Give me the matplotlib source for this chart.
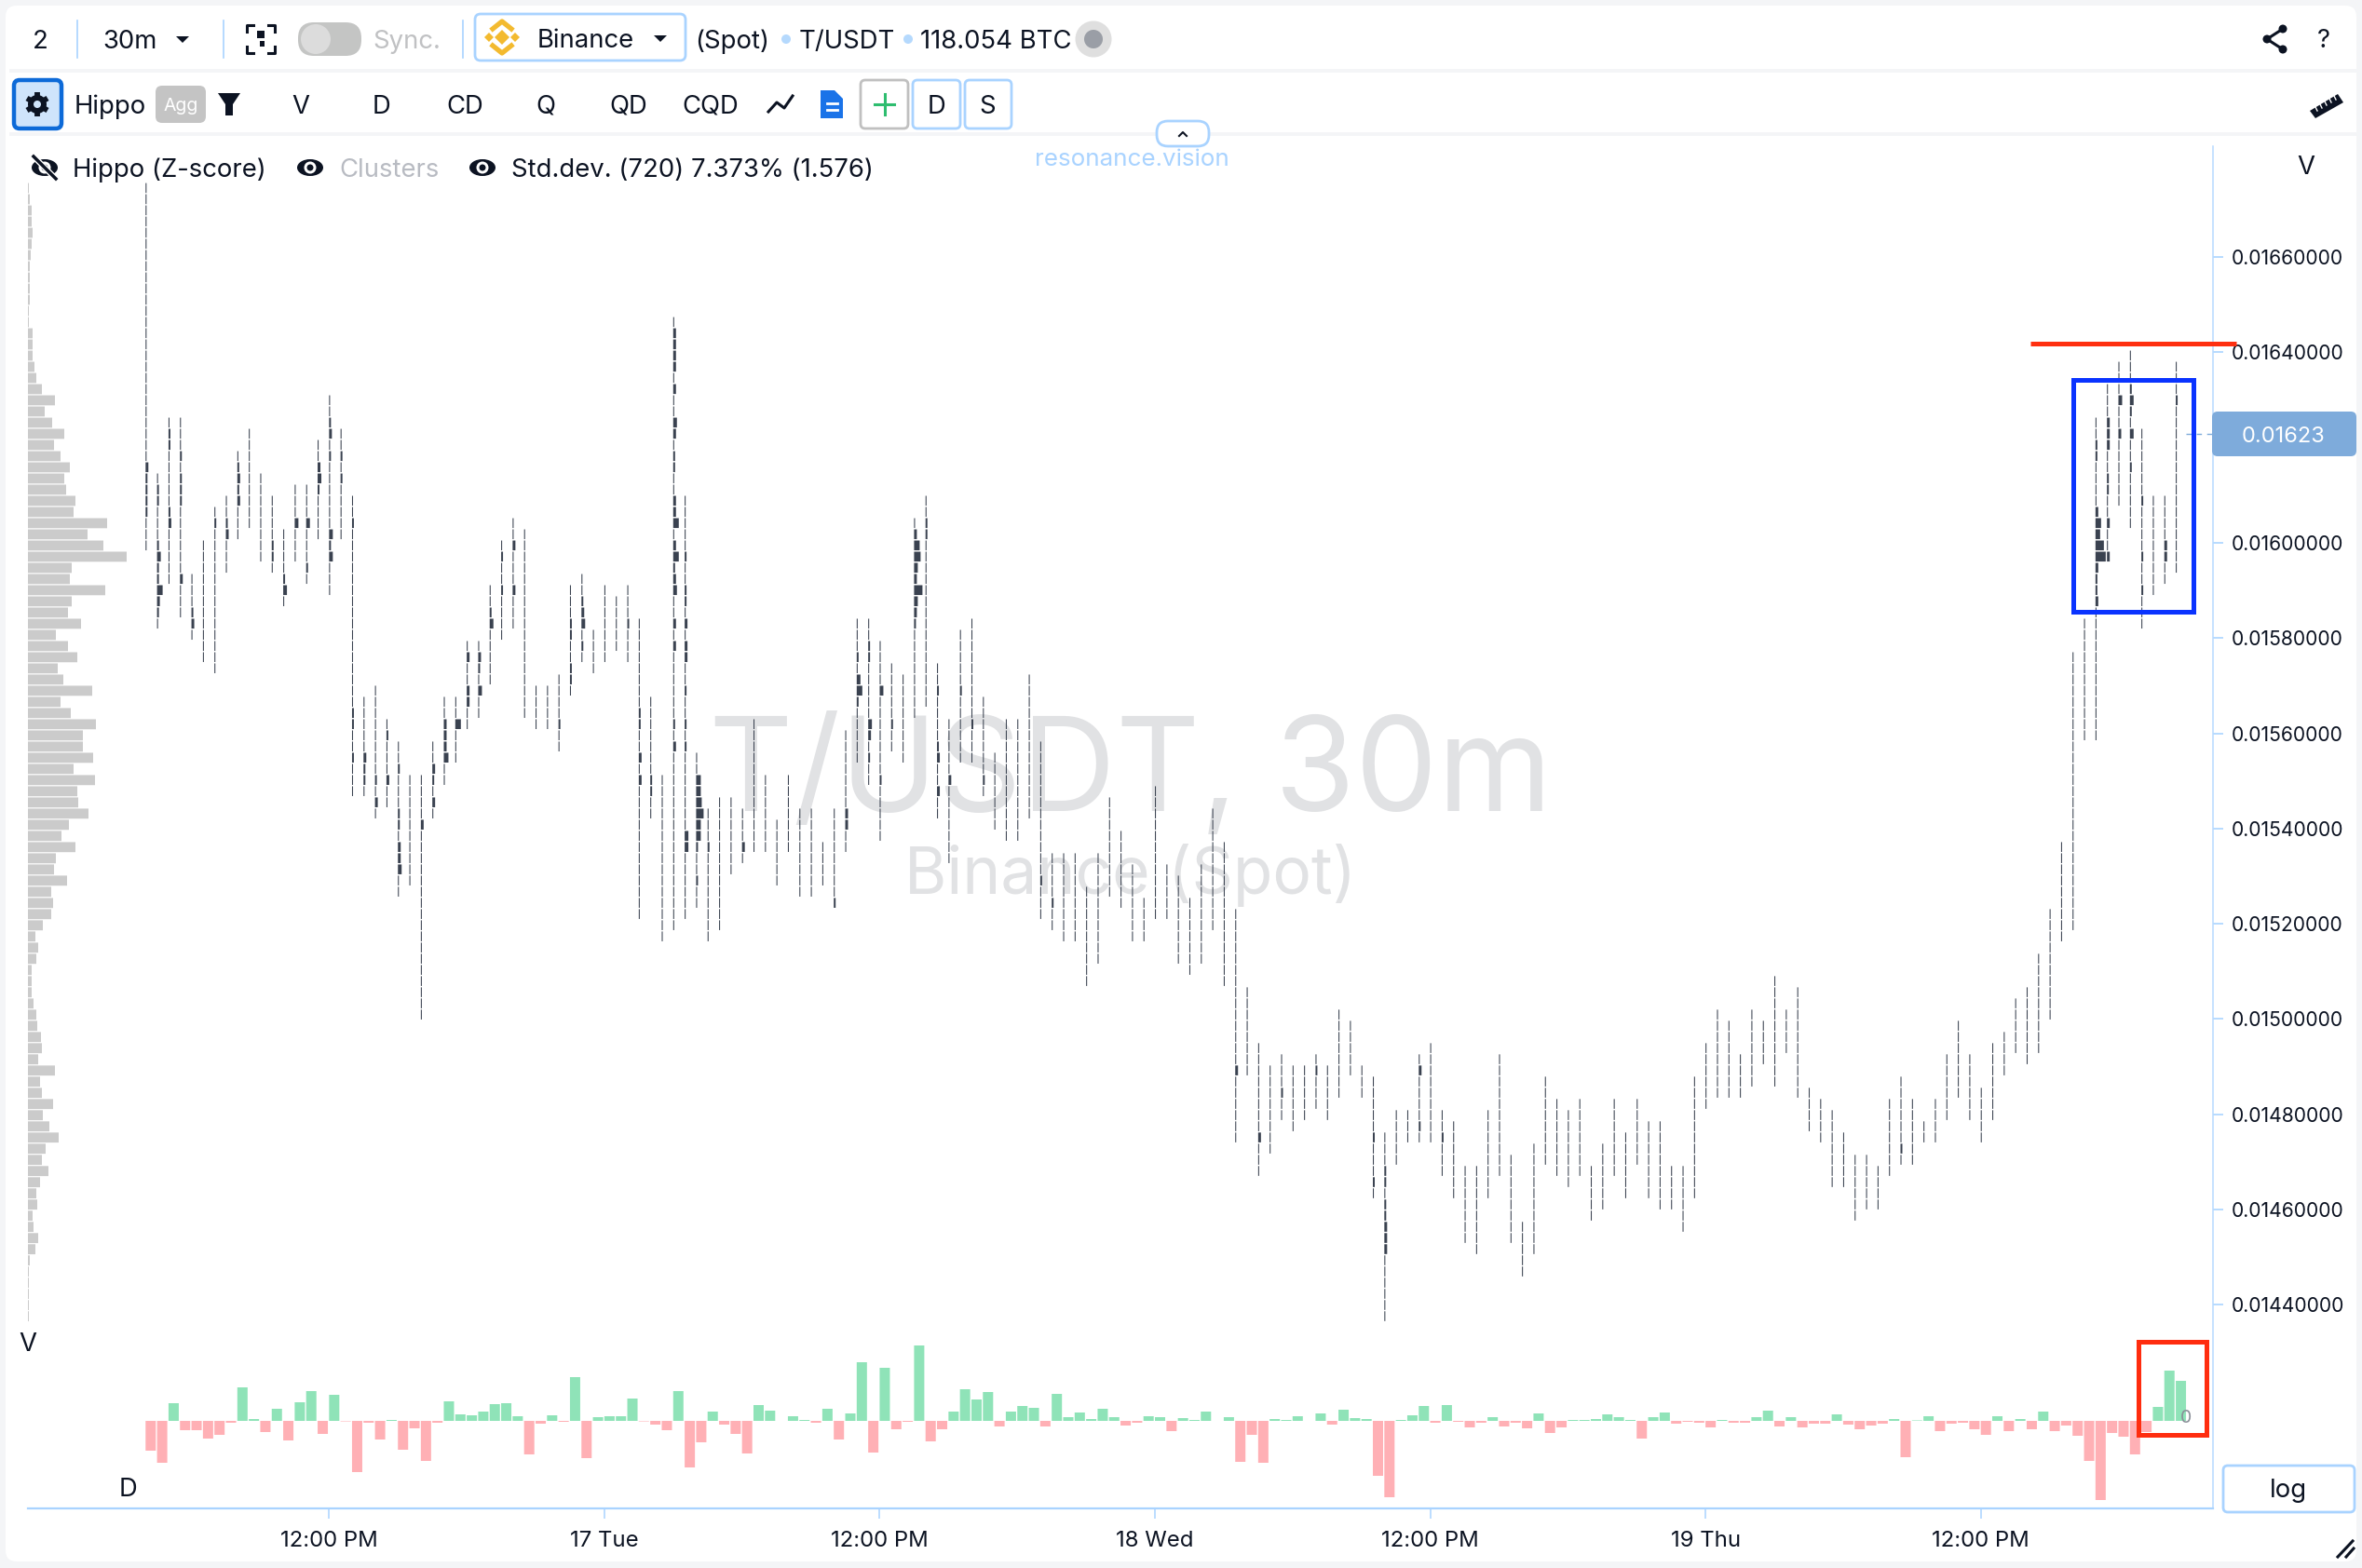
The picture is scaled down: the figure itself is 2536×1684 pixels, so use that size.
import matplotlib
matplotlib.use('Agg')
import matplotlib.pyplot as plt
from matplotlib.patches import Rectangle, FancyBboxPatch, Circle, Ellipse, Polygon

plt.rcParams['font.family'] = ['Inter', 'DejaVu Sans']

W, H = 2536, 1684
BAR_PX = 12.315
FIRST_BAR_PX = 156.3

# price levels of each 30m bar, counted downwards from PRICE_TOP in TICK steps
PRICE_TOP = 0.016756
TICK = 0.00002346

hi_level = [0, 26, 21, 21, 35, 32, 29, 28, 24, 22,
            26, 28, 31, 27, 27, 23, 19, 22, 28, 46,
            45, 48, 50, 53, 53, 50, 46, 46, 41, 41,
            36, 32, 30, 31, 45, 45, 44, 36, 35, 40,
            36, 37, 36, 39, 46, 53, 12, 28, 51, 56,
            55, 55, 56, 48, 53, 57, 53, 56, 56, 59,
            56, 49, 39, 39, 41, 43, 44, 30, 28, 43,
            48, 40, 39, 46, 51, 48, 48, 44, 50, 60,
            60, 60, 63, 60, 55, 58, 61, 64, 54, 61,
            62, 64, 61, 56, 59, 65, 72, 77, 79, 78,
            79, 79, 78, 79, 74, 75, 79, 80, 85, 83,
            83, 78, 77, 83, 84, 88, 88, 83, 78, 87,
            93, 86, 80, 82, 83, 82, 88, 86, 82, 85,
            82, 84, 84, 88, 88, 80, 77, 74, 75, 78,
            74, 75, 71, 74, 72, 81, 82, 83, 85, 87,
            87, 88, 82, 80, 82, 84, 82, 78, 75, 78,
            81, 77, 76, 73, 72, 69, 65, 59, 42, 39,
            21, 18, 16, 15, 22, 28, 28, 16]

lo_level = [32, 39, 35, 38, 40, 42, 43, 34, 31, 30,
            33, 34, 37, 33, 35, 31, 36, 31, 54, 54,
            56, 55, 63, 62, 74, 56, 53, 51, 48, 47,
            44, 40, 39, 47, 48, 48, 50, 45, 42, 43,
            42, 41, 42, 65, 56, 67, 66, 65, 64, 67,
            66, 61, 60, 59, 59, 62, 59, 63, 63, 62,
            64, 59, 51, 53, 58, 50, 51, 47, 46, 56,
            60, 51, 51, 54, 57, 58, 58, 56, 65, 66,
            67, 67, 71, 69, 63, 64, 67, 67, 65, 65,
            69, 70, 69, 66, 71, 85, 79, 88, 86, 83,
            84, 83, 82, 83, 81, 79, 81, 90, 101, 87,
            85, 85, 85, 88, 90, 94, 95, 90, 88, 94,
            97, 95, 87, 88, 89, 88, 92, 91, 88, 90,
            87, 90, 91, 91, 93, 90, 82, 81, 81, 81,
            80, 78, 80, 77, 81, 84, 85, 89, 89, 92,
            91, 91, 88, 87, 87, 85, 85, 83, 81, 83,
            85, 83, 79, 77, 78, 77, 74, 67, 66, 49,
            49, 33, 28, 30, 39, 36, 35, 34]

# cells with more volume: bar -> {level: size}
big_cells = {
    0: {25: 3, 26: 2, 27: 2, 28: 2, 29: 2},
    1: {27: 2, 28: 2, 32: 2, 33: 4, 34: 2, 35: 2, 36: 6, 37: 3, 38: 2},
    2: {22: 2, 23: 2, 29: 2, 30: 3},
    3: {24: 2, 26: 2, 27: 2, 28: 2, 35: 3},
    4: {38: 2, 39: 3},
    6: {30: 2},
    7: {30: 2, 31: 3},
    8: {25: 2, 26: 3, 27: 2, 28: 3},
    11: {32: 2, 33: 2},
    12: {35: 2, 36: 4},
    13: {30: 4},
    14: {30: 4, 34: 2},
    15: {25: 3, 26: 4, 27: 2},
    16: {21: 2, 22: 3, 24: 2, 31: 4, 32: 2, 33: 4},
    17: {24: 2, 26: 2},
    18: {30: 2, 47: 2, 48: 2, 51: 2},
    19: {51: 3, 52: 2, 53: 2},
    20: {53: 2, 55: 3},
    21: {49: 2, 53: 3},
    22: {52: 2, 56: 2, 57: 2, 59: 3, 60: 3, 61: 4},
    24: {57: 3},
    25: {52: 3, 53: 2, 55: 3},
    26: {48: 3, 49: 3, 50: 3, 51: 5},
    27: {48: 6},
    28: {42: 3, 45: 3, 46: 3},
    29: {42: 3, 43: 2, 45: 4},
    30: {38: 2, 39: 4},
    31: {33: 2, 36: 2},
    32: {32: 3, 36: 3},
    36: {48: 2},
    37: {39: 2, 40: 2, 43: 2, 44: 2},
    38: {37: 2, 38: 3, 39: 4, 41: 2},
    42: {39: 2},
    43: {47: 2, 48: 2, 51: 3, 53: 3},
    44: {53: 2, 54: 2},
    46: {13: 3, 14: 3, 15: 3, 16: 3, 18: 3, 21: 4, 22: 3, 24: 2, 25: 2, 28: 3, 29: 3,
         30: 6, 32: 3, 33: 6, 34: 2, 35: 3, 36: 4, 39: 3, 41: 3, 48: 2, 50: 3},
    47: {33: 2, 36: 2, 37: 2, 39: 3, 41: 3, 42: 3, 45: 2, 48: 2, 50: 2, 58: 4, 59: 4},
    48: {53: 5, 54: 5, 55: 6, 56: 8, 57: 5, 58: 5, 59: 2, 62: 2},
    49: {59: 2},
    52: {59: 3},
    60: {64: 2},
    61: {56: 3, 57: 3},
    62: {42: 2, 44: 4, 45: 6, 46: 2},
    63: {41: 2, 42: 2, 48: 4, 49: 3, 51: 2},
    64: {45: 4, 53: 2},
    65: {48: 2},
    67: {31: 3, 32: 6, 33: 7, 34: 4, 35: 3, 36: 9, 37: 4, 38: 3, 39: 2},
    68: {30: 2, 31: 2},
    69: {45: 2, 50: 2, 51: 3, 54: 3},
    70: {53: 3},
    71: {45: 2},
    72: {48: 2},
    73: {53: 2},
    78: {62: 2},
    79: {64: 2},
    95: {79: 3},
    97: {85: 3},
    99: {81: 2},
    102: {79: 2},
    107: {85: 2, 89: 2},
    108: {88: 2, 89: 2, 91: 2, 92: 2, 93: 3, 94: 3, 95: 3},
    111: {79: 3, 84: 2},
    113: {85: 2},
    153: {86: 2},
    170: {23: 2, 24: 2, 29: 3, 30: 6, 31: 5, 32: 9, 33: 11, 34: 3, 35: 2, 36: 2, 37: 3},
    171: {21: 3, 22: 3, 23: 3, 26: 2, 27: 2, 30: 3, 33: 3},
    172: {19: 4, 22: 3},
    173: {18: 2, 19: 4, 20: 2, 22: 4, 25: 2},
    174: {28: 2, 33: 2, 36: 2},
    176: {32: 3, 33: 3},
    177: {19: 2},
}

delta = [-32, -45, 19, -10, -10, -19, -15, -2, 36, 2,
         -12, 13, -21, 20, 32, -14, 28, -0.5, -55, -2,
         -20, 1, -31, -8, -43, -2, 21, 7, 6, 10,
         18, 19, 5, -36, -3, 6, -1, 47, -40, 4,
         5, 5, 24, -0.5, -4, -10, 32, -50, -23, 10,
         -4, -14, -35, 17, 11, 0, 5, 1, -2, 13,
         -20, 8, 63, -34, 57, -9, -1, 81, -22, -9,
         10, 34, 23, 31, -6, 10, 16, 14, -6, 29,
         4, 9, 2, 13, 4, -5, -2, 5, 4, -11,
         3, 1, 10, 0, 4, -44, -15, -45, 2, 1,
         5, 0, 8, -4, 12, 3, 2, -59, -82, 1,
         6, 16, -2, 17, -1, -7, -2, 4, -6, -2,
         -8, 8, -13, -7, 1, 1, 2, 7, 4, 1,
         -19, 4, 9, -3, -1, -2, -7, 1, -2, -2,
         4, 11, -6, 4, -7, -3, -3, 7, -4, -9,
         -5, -3, 2, -39, 0.5, 5, -11, -3, -2, -9,
         -15, 5, -11, 2, -9, 10, -11, -5, -16, -43,
         -85, -13, -17, -36, -12, 15, 54, 43]

# volume profile on the same price levels
profile = [1, 2, 4, 4, 5, 4, 3, 2, 2, 2, 2, 1, 1, 5, 5, 5, 7, 9, 15, 29,
           18, 26, 39, 28, 35, 45, 39, 41, 51, 49, 85, 64, 81, 106, 47, 45, 83, 47, 43, 57,
           30, 43, 53, 32, 38, 69, 35, 46, 73, 59, 59, 70, 49, 72, 53, 54, 65, 44, 36, 51,
           30, 28, 42, 25, 27, 25, 16, 8, 11, 9, 4, 4, 4, 6, 9, 10, 14, 15, 11, 29,
           13, 15, 27, 16, 23, 33, 19, 15, 22, 13, 9, 10, 5, 6, 11, 8, 2, 1, 1, 1, 1, 1]

price_ticks = [0.0166, 0.0164, 0.0160, 0.0158, 0.0156, 0.0154, 0.0152,
               0.0150, 0.0148, 0.0146, 0.0144]
time_bars = [16, 40, 64, 88, 112, 136, 160]
time_labels = ['12:00 PM', '17 Tue', '12:00 PM', '18 Wed', '12:00 PM', '19 Thu', '12:00 PM']

BLUE = '#a9d3ff'
DARK = '#0c1322'
GREY = '#f4f5f7'
FS = 19.8

fig = plt.figure(figsize=(W / 100, H / 100), dpi=100, facecolor=GREY)


def px_axes(z):
    a = fig.add_axes([0, 0, 1, 1], zorder=z)
    a.set_xlim(0, W)
    a.set_ylim(H, 0)
    a.axis('off')
    a.patch.set_alpha(0)
    return a


bg = px_axes(0)
top = px_axes(5)


def label(a, x, y, s, size=FS, color=DARK, ha='left', **kw):
    # y is the middle of the capitals
    a.text(x, y + 0.5 * 0.727 * size / 0.72, s, fontsize=size, color=color, ha=ha, va='baseline', **kw)


def box(a, x0, y0, x1, y1, edge, face='white', lw=2, r=5, z=2):
    a.add_patch(FancyBboxPatch((x0 + r, y0 + r), x1 - x0 - 2 * r, y1 - y0 - 2 * r,
                               boxstyle='round,pad=%d,rounding_size=%d' % (r, r),
                               fc=face, ec=edge, lw=lw, zorder=z))


def eye(x, y, off=False):
    bg.add_patch(Ellipse((x, y), 28, 18, fc=DARK, ec='none', zorder=3))
    bg.add_patch(Circle((x, y), 6.5, fc='white', ec='none', zorder=4))
    bg.add_patch(Circle((x, y), 3.5, fc=DARK, ec='none', zorder=5))
    if off:
        bg.plot([x - 12, x + 12], [y - 12, y + 12], color='white', lw=4.5, zorder=6)
        bg.plot([x - 12, x + 12], [y - 12, y + 12], color=DARK, lw=2.5, zorder=7)


def triangle(x, y):
    bg.add_patch(Polygon([(x - 7, y - 3), (x + 7, y - 3), (x, y + 4)], fc=DARK, ec='none', zorder=3))


# page card and toolbars
box(bg, 6, 6, 2530, 1677, 'none', r=12, z=1)
bg.add_patch(Rectangle((10, 74), 2520, 4, fc=GREY, ec='none', zorder=2))
bg.add_patch(Rectangle((10, 142), 2520, 4, fc=GREY, ec='none', zorder=2))
for sx in [83, 240, 497]:
    bg.plot([sx, sx], [22, 62], color=BLUE, lw=1.2, zorder=2)

label(bg, 43, 42, '2', ha='center')
label(bg, 139, 42, '30m', ha='center')
triangle(196, 42)
for cx, cy, dx, dy in [(265, 27, 1, 1), (295, 27, -1, 1), (265, 57, 1, -1), (295, 57, -1, -1)]:
    bg.plot([cx + dx * 7, cx, cx], [cy, cy, cy + dy * 7], color=DARK, lw=2.2, zorder=3)
bg.add_patch(Rectangle((276, 33), 8, 8, fc=DARK, ec='none', zorder=3))
bg.add_patch(Rectangle((279, 44), 5, 6, fc=DARK, ec='none', zorder=3))
box(bg, 320, 24, 388, 60, 'none', face='#c4c5c4', r=17, z=2)
bg.add_patch(Circle((339, 42), 16, fc='#dcdcdc', ec='none', zorder=3))
label(bg, 400, 42, 'Sync.', color='#c0c1c3')

box(bg, 510, 15, 736, 65, BLUE, r=6)
GOLD = '#f3ba2f'
for dx, s in [(0, 8), (-14, 5), (14, 5)]:
    bg.add_patch(Polygon([(539 + dx - s, 40), (539 + dx, 40 - s), (539 + dx + s, 40), (539 + dx, 40 + s)],
                         fc=GOLD, ec='none', zorder=3))
for sign in [-1, 1]:
    bg.plot([529, 539, 549], [40 + sign * 9, 40 + sign * 17, 40 + sign * 9], color=GOLD, lw=3.8, zorder=3)
label(bg, 577, 41, 'Binance')
triangle(709, 41)
label(bg, 746, 42, '(Spot)')
bg.add_patch(Circle((844, 42), 5, fc='#b5d9fd', ec='none', zorder=3))
label(bg, 858, 42, 'T/USDT')
bg.add_patch(Circle((975, 42), 5, fc='#b5d9fd', ec='none', zorder=3))
label(bg, 988, 42, '118.054 BTC')
bg.add_patch(Circle((1174, 42), 19.5, fc='#dfdfdf', ec='none', zorder=3))
bg.add_patch(Circle((1174, 42), 10, fc='#9a9ea6', ec='none', zorder=4))

# share, help, ruler
for sx, sy in [(2434, 42), (2451, 31), (2451, 53)]:
    bg.add_patch(Circle((sx, sy), 4.5, fc=DARK, ec='none', zorder=3))
bg.plot([2451, 2434, 2451], [31, 42, 53], color=DARK, lw=2.2, zorder=3)
label(bg, 2495, 41, '?', ha='center')
bg.add_patch(Polygon([(2480, 119), (2510, 101), (2516, 110), (2486, 127)], fc=DARK, ec='none', zorder=3))
for k in range(5):
    bg.plot([2486 + 5 * k, 2488 + 5 * k], [115 - 3 * k, 119 - 3 * k], color='white', lw=1, zorder=4)

# second toolbar row
box(bg, 15, 86, 66, 138, '#0d6ad8', face='#cfe4fb', lw=3.2, r=6)
bg.plot([40, 40], [99, 125], color=DARK, lw=4.2, solid_capstyle='butt', zorder=3)
bg.plot([29, 51], [105.5, 118.5], color=DARK, lw=4.2, solid_capstyle='butt', zorder=3)
bg.plot([29, 51], [118.5, 105.5], color=DARK, lw=4.2, solid_capstyle='butt', zorder=3)
bg.add_patch(Circle((40, 112), 10, fc=DARK, ec='none', zorder=4))
bg.add_patch(Circle((40, 112), 4, fc='#cfe4fb', ec='none', zorder=5))
label(bg, 80, 112, 'Hippo')
box(bg, 167, 92, 221, 132, 'none', face='#c4c4c4', r=7)
label(bg, 194, 112, 'Agg', size=14, color='white', ha='center', zorder=4)
bg.add_patch(Polygon([(234, 100), (258, 100), (250, 112), (250, 124), (242, 124), (242, 112)],
                     fc=DARK, ec='none', zorder=3))
for cx, s in zip([323, 410, 499, 586, 675, 763], ['V', 'D', 'CD', 'Q', 'QD', 'CQD']):
    label(bg, cx, 112, s, ha='center')
bg.plot([825, 834, 842, 851], [120, 110, 116, 103], color=DARK, lw=2.2, zorder=3)
bg.add_patch(Polygon([(881, 97), (896, 97), (905, 106), (905, 127), (881, 127)], fc='#1a73e8', ec='none', zorder=3))
for ly in [111, 118]:
    bg.plot([888, 899], [ly, ly], color='white', lw=2, zorder=4)
box(bg, 924, 86, 975, 138, '#c0c0c0', r=5)
bg.plot([949.5, 949.5], [101, 123], color='#2ebd6f', lw=2.2, zorder=3)
bg.plot([939, 960], [112, 112], color='#2ebd6f', lw=2.2, zorder=3)
box(bg, 980, 86, 1031, 138, BLUE, r=5)
label(bg, 1005, 112, 'D', ha='center', zorder=4)
box(bg, 1036, 86, 1086, 138, BLUE, r=5)
label(bg, 1060, 112, 'S', ha='center', zorder=4)
box(bg, 1242, 130, 1298, 157, BLUE, r=12, z=3)
bg.plot([1266, 1270, 1274], [146, 142, 146], color=DARK, lw=1.5, zorder=4)

# legend row
eye(48, 180, off=True)
label(bg, 78, 180, 'Hippo (Z-score)')
eye(333, 180)
label(bg, 364, 180, 'Clusters', color='#b8bbc2')
eye(518, 180)
label(bg, 549, 180, 'Std.dev. (720) 7.373% (1.576)')
label(bg, 1111, 169, 'resonance.vision', size=18.7, color=BLUE, zorder=4)

label(bg, 2476, 177, 'V', ha='center')
label(bg, 29.5, 1441, 'V', ha='center')
label(bg, 137, 1597, 'D', ha='center')

# watermark
bg.text(1214, 871, 'T/USDT, 30m', fontsize=101, color='#e1e2e4', ha='center', va='baseline', zorder=2)
bg.text(1214, 960, 'Binance (Spot)', fontsize=50, color='#e1e2e4', ha='center', va='baseline', zorder=2)

# log button, resize grip
box(bg, 2387, 1574, 2528, 1624, BLUE, r=5)
label(bg, 2457, 1598, 'log', ha='center', zorder=4)
bg.plot([2510, 2526], [1672, 1655], color=DARK, lw=2.2, zorder=3)
bg.plot([2519, 2527], [1672, 1663], color=DARK, lw=2.2, zorder=3)

# price chart
left, right, ytop, ybot = 30, 2376, 157, 1620
rect = [left / W, 1 - ybot / H, (right - left) / W, (ybot - ytop) / H]
ax = fig.add_axes(rect, zorder=2)
ax.patch.set_alpha(0)
ax.set_xlim((left - FIRST_BAR_PX) / BAR_PX, (right - FIRST_BAR_PX) / BAR_PX)
ax.set_ylim(0.013972, 0.016833)

xs, bottoms, widths = [], [], []
for i in range(len(hi_level)):
    for lvl in range(hi_level[i], lo_level[i] + 1):
        xs.append(i)
        bottoms.append(PRICE_TOP - (lvl + 0.9) * TICK)
        size = big_cells.get(i, {}).get(lvl, 1.05)
        widths.append(size / BAR_PX)
ax.bar(xs, TICK * 0.88, width=widths, bottom=bottoms, align='edge', color='#3a4250',
       linewidth=0, snap=False, zorder=3)

for s in ['top', 'left']:
    ax.spines[s].set_visible(False)
ax.spines['right'].set_color('#b7daff')
ax.spines['right'].set_linewidth(1.1)
ax.spines['bottom'].set_color(BLUE)
ax.spines['bottom'].set_linewidth(1.6)

# volume profile on the left
prof = ax.twiny()
prof.set_xlim(0, right - left)
prof.barh([PRICE_TOP - (k + 0.92) * TICK for k in range(len(profile))], profile, height=TICK * 0.9,
          align='edge', color='#cbcbcb', linewidth=0, snap=False)
prof.axis('off')

# delta panel at the bottom
dax = ax.twinx()
dax.set_ylim(-94, 1369)
dax.bar(range(len(delta)), delta, width=11 / BAR_PX, align='edge',
        color=['#8fe3b8' if d > 0 else '#ffb0b5' for d in delta], linewidth=0, snap=False)
dax.axis('off')
dax.text(2347, 1523, '0', transform=bg.transData, fontsize=14, color='#8a8f98', ha='center', va='center')

# twinx moves the ticks, so set them up after it
ax.yaxis.tick_right()
ax.xaxis.tick_bottom()
ax.set_yticks(price_ticks)
ax.set_yticklabels(['%.8f' % p for p in price_ticks], fontsize=15.2, color=DARK)
ax.tick_params(axis='y', length=8, width=1.4, color='#b7daff', pad=6.5)
ax.set_xticks(time_bars)
ax.set_xticklabels(time_labels, fontsize=17.2, color=DARK)
ax.tick_params(axis='x', length=8, width=1.1, color=BLUE, pad=9)

# current price tag and annotations
box(top, 2375, 442, 2530, 490, 'none', face='#7eabdb', r=6)
label(top, 2452, 466, '0.01623', size=17, color='white', ha='center', zorder=4)
top.plot([2347, 2375], [466, 466], color='#7eabdb', lw=1, ls=(0, (4, 4)), zorder=1)
top.plot([2180, 2401], [368.7, 368.7], color='#ff3010', lw=3.6, solid_capstyle='butt', zorder=5)
top.add_patch(Rectangle((2225.5, 407.5), 129, 249, fc='none', ec='#0a33ff', lw=3.6, zorder=5))
top.add_patch(Rectangle((2295.5, 1440.5), 73, 100, fc='none', ec='#ff2d0f', lw=3.6, zorder=5))

plt.savefig('out.png', dpi=100, facecolor=GREY)
